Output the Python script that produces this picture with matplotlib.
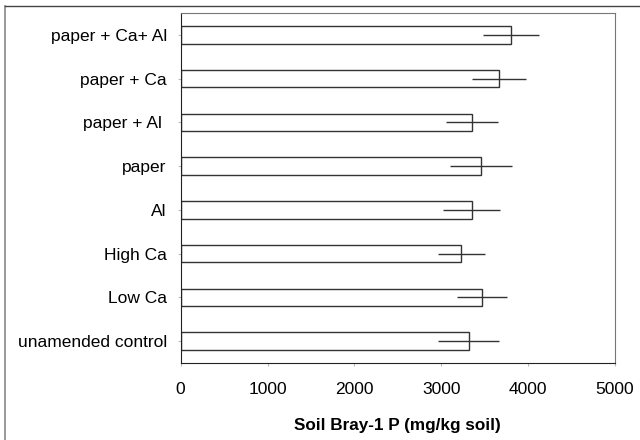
import numpy as np
import matplotlib.pyplot as plt
from matplotlib.lines import Line2D

plt.rcParams['font.family'] = ['Liberation Sans', 'DejaVu Sans']

treatments = ["unamended control", "Low Ca", "High Ca", "Al", "paper",
              "paper + Al ", "paper + Ca", "paper + Ca+ Al"]
bray_p = [3314, 3467, 3230, 3352, 3455, 3356, 3662, 3805]
err = [347, 290, 270, 330, 358, 300, 312, 326]

fig = plt.figure(figsize=(6.4, 4.4), dpi=100)
ax = fig.add_axes([0.2823, 0.175, 0.6786, 0.7955])

y = np.arange(len(treatments))
ax.barh(y, bray_p, height=0.4, color="white", edgecolor="#333333", linewidth=1.0)
ax.errorbar(bray_p, y, xerr=err, fmt="none", ecolor="#333333", elinewidth=1.0, capsize=0)

ax.set_xlim(0, 5000)
ax.set_ylim(-0.5, len(treatments) - 0.5)
ax.set_xticks([0, 1000, 2000, 3000, 4000, 5000])
ax.set_yticks(y)
ax.set_yticklabels(treatments, fontsize=12.5)
ax.tick_params(axis="x", labelsize=12.5, length=2, color="#bbbbbb", pad=12)
ax.tick_params(axis="y", length=2, color="#bbbbbb", pad=8)
ax.set_xlabel("Soil Bray-1 P (mg/kg soil)", fontsize=12.3, fontweight="bold", labelpad=15)

for s in ["left", "bottom"]:
    ax.spines[s].set_color("#222222")
for s in ["top", "right"]:
    ax.spines[s].set_color("#777777")

# outer frame on top and left edges of the figure
fig.add_artist(Line2D([5 / 640, 5 / 640], [0, 1 - 6 / 440], transform=fig.transFigure,
                      color="#888888", lw=1.2))
fig.add_artist(Line2D([5 / 640, 1], [1 - 6 / 440, 1 - 6 / 440], transform=fig.transFigure,
                      color="#444444", lw=1.0))

plt.savefig("out.png", dpi=100)
